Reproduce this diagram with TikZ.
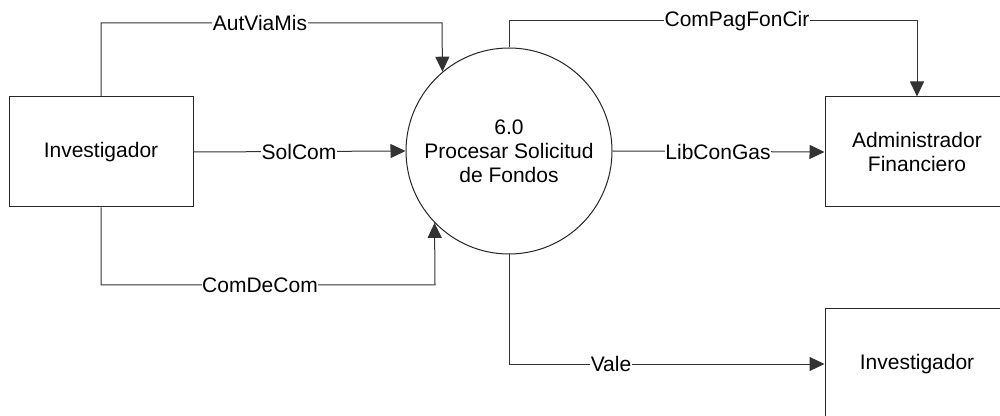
\documentclass[tikz,border=0pt]{standalone}
\usepackage{fontspec}
\setmainfont{Liberation Sans}
\usetikzlibrary{arrows.meta}
\begin{document}
\begin{tikzpicture}[x=0.5pt,y=-0.5pt,
  every node/.style={font=\fontsize{10.5pt}{12pt}\selectfont},
  entity/.style={draw=black!85,line width=0.5pt,minimum width=92pt,minimum height=55pt,inner sep=0pt,align=center},
  proc/.style={draw=black!85,line width=0.5pt,circle,minimum size=103pt,inner sep=0pt,align=center},
  flow/.style={draw=black!80,line width=0.5pt,-{Triangle[length=7.5pt,width=7pt]}},
  lbl/.style={fill=white,inner sep=0.3pt}]
\useasboundingbox[fill=white] (0,0) rectangle (1000,416);
\node[entity] (inv1) at (101,152) {Investigador};
\node[proc] (p) at (509,151) {6.0\\Procesar Solicitud\\de Fondos};
\node[entity] (adm) at (917,152) {Administrador\\Financiero};
\node[entity] (inv2) at (917,364) {Investigador};
\coordinate (a1) at (442,23);
\coordinate (a2) at (435,285);
\coordinate (a3) at (509,21);
\draw[flow] (inv1.north) |- (a1) -- (p.130.6);
\draw[flow] (inv1.east) -- (p.west);
\draw[flow] (inv1.south) |- (a2) -- (p.224);
\draw[flow] (p.north) -- (a3) -| (adm.north);
\draw[flow] (p.east) -- (adm.west);
\draw[flow] (p.south) |- (inv2.west);
\node[lbl] (l1) at (260,23) {AutViaMis};
\node[lbl] (l2) at (299,152) {SolCom};
\node[lbl] (l3) at (260,285) {ComDeCom};
\node[lbl] (l4) at (737,21) {ComPagFonCir};
\node[lbl] (l5) at (718,152) {LibConGas};
\node[lbl] (l6) at (611,364) {Vale};
\end{tikzpicture}
\end{document}
